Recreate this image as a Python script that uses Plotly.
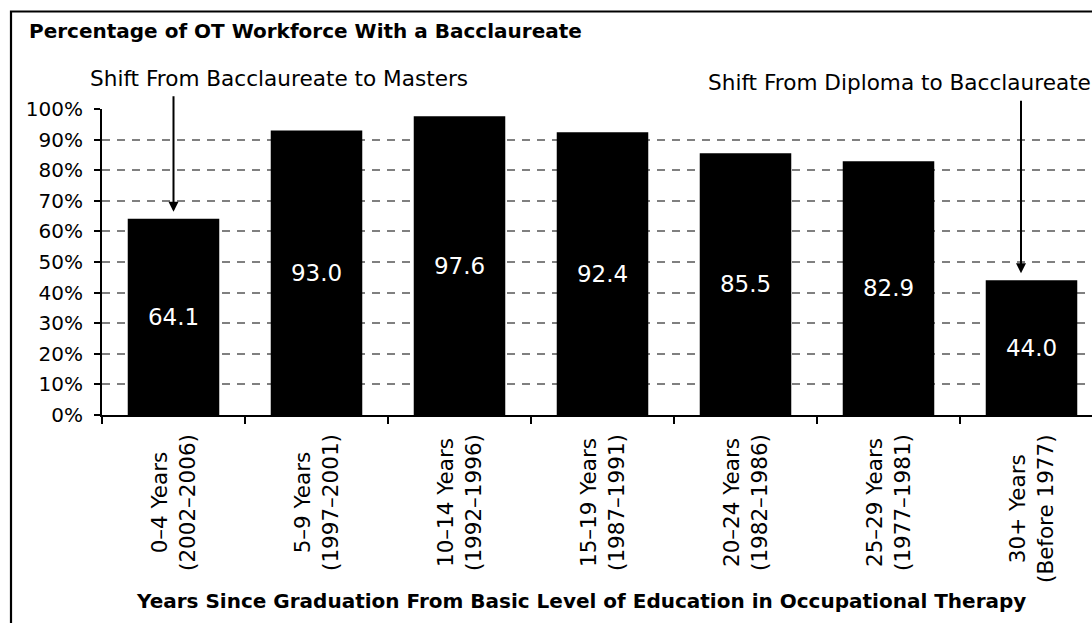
import plotly.graph_objects as go

# Cohorts by years since graduation, with graduation-year span
cohorts = ["0–4 Years", "5–9 Years", "10–14 Years", "15–19 Years",
           "20–24 Years", "25–29 Years", "30+ Years"]
periods = ["(2002–2006)", "(1997–2001)", "(1992–1996)", "(1987–1991)",
           "(1982–1986)", "(1977–1981)", "(Before 1977)"]
pct_bacc = [64.1, 93.0, 97.6, 92.4, 85.5, 82.9, 44.0]
y_ticks = [0, 10, 20, 30, 40, 50, 60, 70, 80, 90, 100]
y_tick_labels = [f"{v}%" for v in y_ticks]

W, H = 1092, 623
L, T, R, B = 102, 109, 0, 208
PW, PH = W - L - R, H - T - B
CAT_PX = 143.0  # width of one category slot in pixels


def px_x(p):
    return (p - L) / PW


def px_y(p):
    return (T + PH - p) / PH


FONT = "DejaVu Sans"

fig = go.Figure()
fig.add_trace(go.Bar(
    x=cohorts,
    y=pct_bacc,
    marker=dict(color="black", line=dict(width=0)),
    text=[f"{v:.1f}" for v in pct_bacc],
    textposition="inside",
    insidetextanchor="middle",
    textangle=0,
    textfont=dict(family=FONT, size=23, color="white"),
    hoverinfo="skip",
))

annotations = []

# Chart title
annotations.append(dict(
    text="<b>Percentage of OT Workforce With a Bacclaureate</b>",
    xref="paper", yref="paper", x=px_x(27), y=px_y(30.5),
    xanchor="left", yanchor="middle", showarrow=False,
    font=dict(family=FONT, size=20, color="black"),
))

# Axis title along the bottom
annotations.append(dict(
    text="<b>Years Since Graduation From Basic Level of Education in Occupational Therapy</b>",
    xref="paper", yref="paper", x=px_x(581), y=px_y(601),
    xanchor="center", yanchor="middle", showarrow=False,
    font=dict(family=FONT, size=20, color="black"),
))

# Rotated two-line category labels, centred under each bar
for c, p in zip(cohorts, periods):
    annotations.append(dict(
        text=f"{c}<br>{p}", xref="x", yref="paper", x=c, y=px_y(432),
        xanchor="center", yanchor="top", textangle=-90, align="center",
        showarrow=False, font=dict(family=FONT, size=21.5, color="black"),
    ))

# Callouts for the shifts in entry-level degree
annotations.append(dict(
    text="Shift From Bacclaureate to Masters",
    xref="paper", yref="paper", x=px_x(88), y=px_y(79),
    xanchor="left", yanchor="middle", showarrow=False,
    font=dict(family=FONT, size=21.6, color="black"),
))
annotations.append(dict(
    text="Shift From Diploma to Bacclaureate",
    xref="paper", yref="paper", x=px_x(706), y=px_y(82.5),
    xanchor="left", yanchor="middle", showarrow=False,
    font=dict(family=FONT, size=21.6, color="black"),
))
annotations.append(dict(
    text="", xref="x", yref="y", x=cohorts[0], y=pct_bacc[0],
    ax=0, ay=-124, axref="pixel", ayref="pixel",
    showarrow=True, arrowhead=2, arrowsize=1, arrowwidth=2,
    arrowcolor="black", standoff=7,
))
annotations.append(dict(
    text="", xref="x", yref="y", x=cohorts[6], y=pct_bacc[6],
    ax=0, ay=-181, axref="pixel", ayref="pixel", xshift=-10.5,
    showarrow=True, arrowhead=2, arrowsize=1, arrowwidth=2,
    arrowcolor="black", standoff=7,
))

# Outer frame around the chart
shapes = [dict(
    type="rect", xref="paper", yref="paper",
    x0=px_x(11), y0=px_y(11.5), x1=px_x(1120), y1=px_y(660),
    line=dict(color="black", width=2.2), fillcolor="rgba(0,0,0,0)",
    layer="above",
)]

fig.update_layout(
    width=W, height=H,
    margin=dict(l=L, r=R, t=T, b=B, pad=0),
    paper_bgcolor="white", plot_bgcolor="white",
    bargap=0.36, showlegend=False,
    font=dict(family=FONT, color="black"),
    annotations=annotations, shapes=shapes,
    xaxis=dict(
        type="category", range=[-0.5, -0.5 + PW / CAT_PX],
        showline=True, linecolor="black", linewidth=2,
        ticks="outside", tickson="boundaries", ticklen=7, tickwidth=2,
        tickcolor="black", showticklabels=False, showgrid=False,
        zeroline=False, fixedrange=True,
    ),
    yaxis=dict(
        range=[0, 100], tickmode="array", tickvals=y_ticks,
        ticktext=y_tick_labels,
        showline=True, linecolor="black", linewidth=2,
        ticks="outside", ticklen=6, tickwidth=2, tickcolor="black",
        tickfont=dict(family=FONT, size=20, color="black"),
        ticklabelstandoff=7,
        showgrid=True, gridcolor="#808080", gridwidth=1.5,
        griddash="8px,7px", zeroline=False, fixedrange=True,
    ),
)

fig.write_html("out.html")
